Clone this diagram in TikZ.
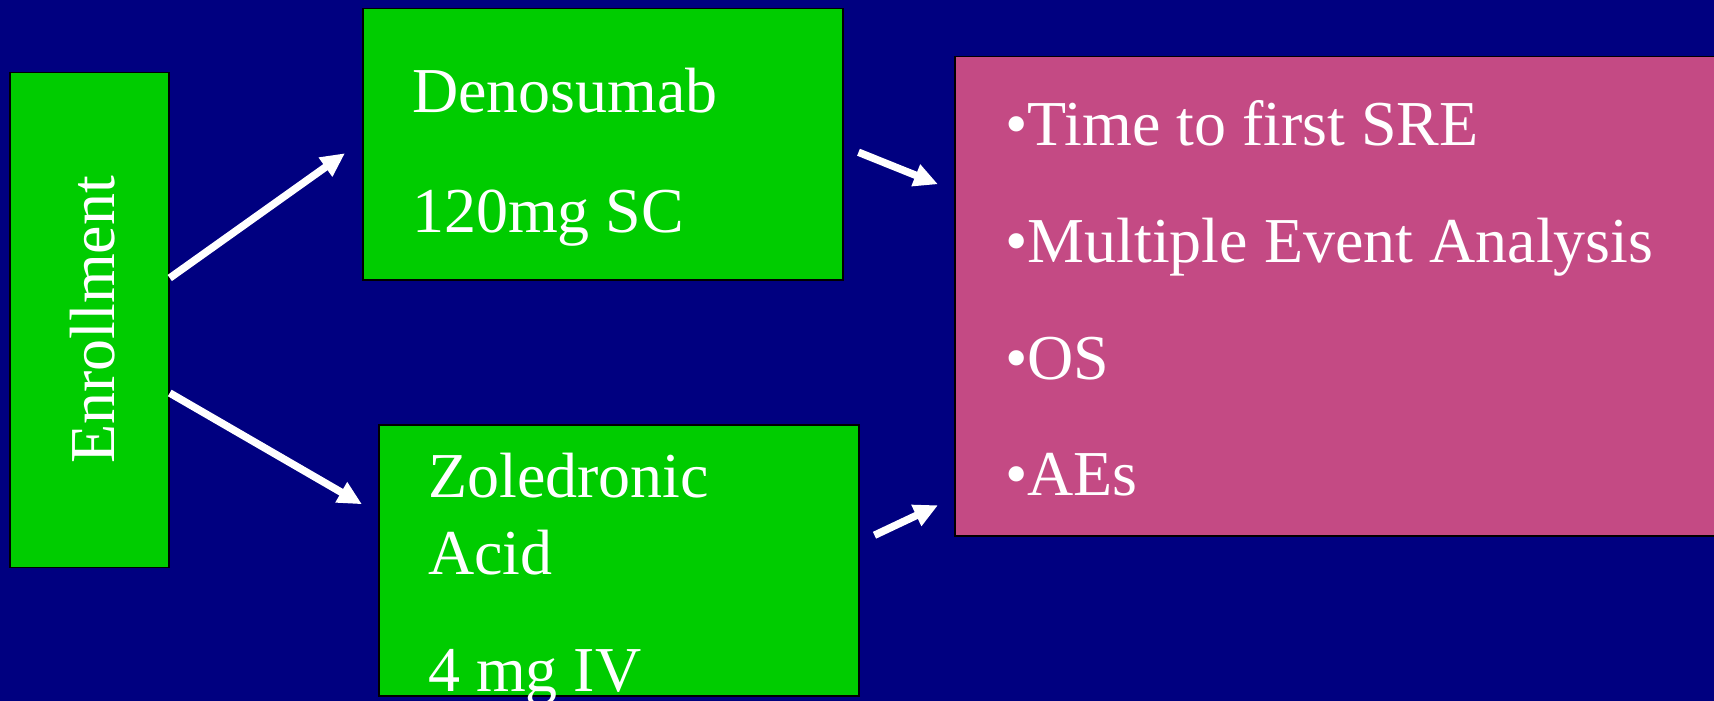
\documentclass[tikz,border=0pt]{standalone}
\usepackage{fontspec}
\setmainfont{Liberation Serif}
\usetikzlibrary{arrows.meta,calc}
\definecolor{slidebg}{RGB}{0,0,128}
\definecolor{armgreen}{RGB}{0,204,0}
\definecolor{endpink}{RGB}{196,74,132}
\tikzset{%
  font=\fontsize{64}{77}\selectfont,>={Triangle[length=24pt,width=22pt]},
  arm/.style={rectangle,draw=black,line width=1.5pt,fill=armgreen,inner sep=0pt},
  txt/.style={anchor=base west,text=white,inner sep=0pt},
  line/.style={draw=white,line width=7.5pt,->}
}
\begin{document}
\begin{tikzpicture}[x=1pt,y=-1pt]
  \fill[slidebg] (0,0) rectangle (1714,701);
  \useasboundingbox (0,0) rectangle (1714,701);

  % boxes
  \node[arm,minimum width=159,minimum height=495] (enroll) at (89.5,320) {};
  \node[txt,rotate=90,anchor=center] (enrtxt) at ($(enroll.center)+(3,0)$) {Enrollment};
  \node[arm,minimum width=480,minimum height=271,anchor=north west] (deno) at (362,8) {};
  \node[arm,minimum width=480,minimum height=271,anchor=north west] (zol) at (378,424) {};
  \node[arm,fill=endpink,minimum width=770,minimum height=479,anchor=north west] (endp) at (954,56) {};

  % texts
  \node[txt] (deno1) at (412,113) {Denosumab};
  \node[txt] (deno2) at (412,232) {120mg SC};
  \node[txt] (zol1) at (428,497) {Zoledronic};
  \node[txt] (zol2) at (428,574) {Acid};
  \node[txt] (zol3) at (428,691) {4 mg IV};
  \node[txt] (sre) at (1005,145) {•Time to first SRE};
  \node[txt] (mea) at (1005,262) {•Multiple Event Analysis};
  \node[txt] (os) at (1005,379) {•OS};
  \node[txt] (aes) at (1005,495) {•AEs};

  % arrows
  \draw[line] ($(enroll.east)+(0,-42)$) -- ($(deno.west)+(-17,9)$);
  \draw[line] ($(enroll.east)+(0,73)$) -- ($(zol.west)+(-16,-56)$);
  \draw[line] ($(deno.east)+(15,8)$) -- ($(endp.west)+(-16,-112)$);
  \draw[line] ($(zol.east)+(15,-25)$) -- ($(endp.west)+(-16,209)$);
\end{tikzpicture}
\end{document}
